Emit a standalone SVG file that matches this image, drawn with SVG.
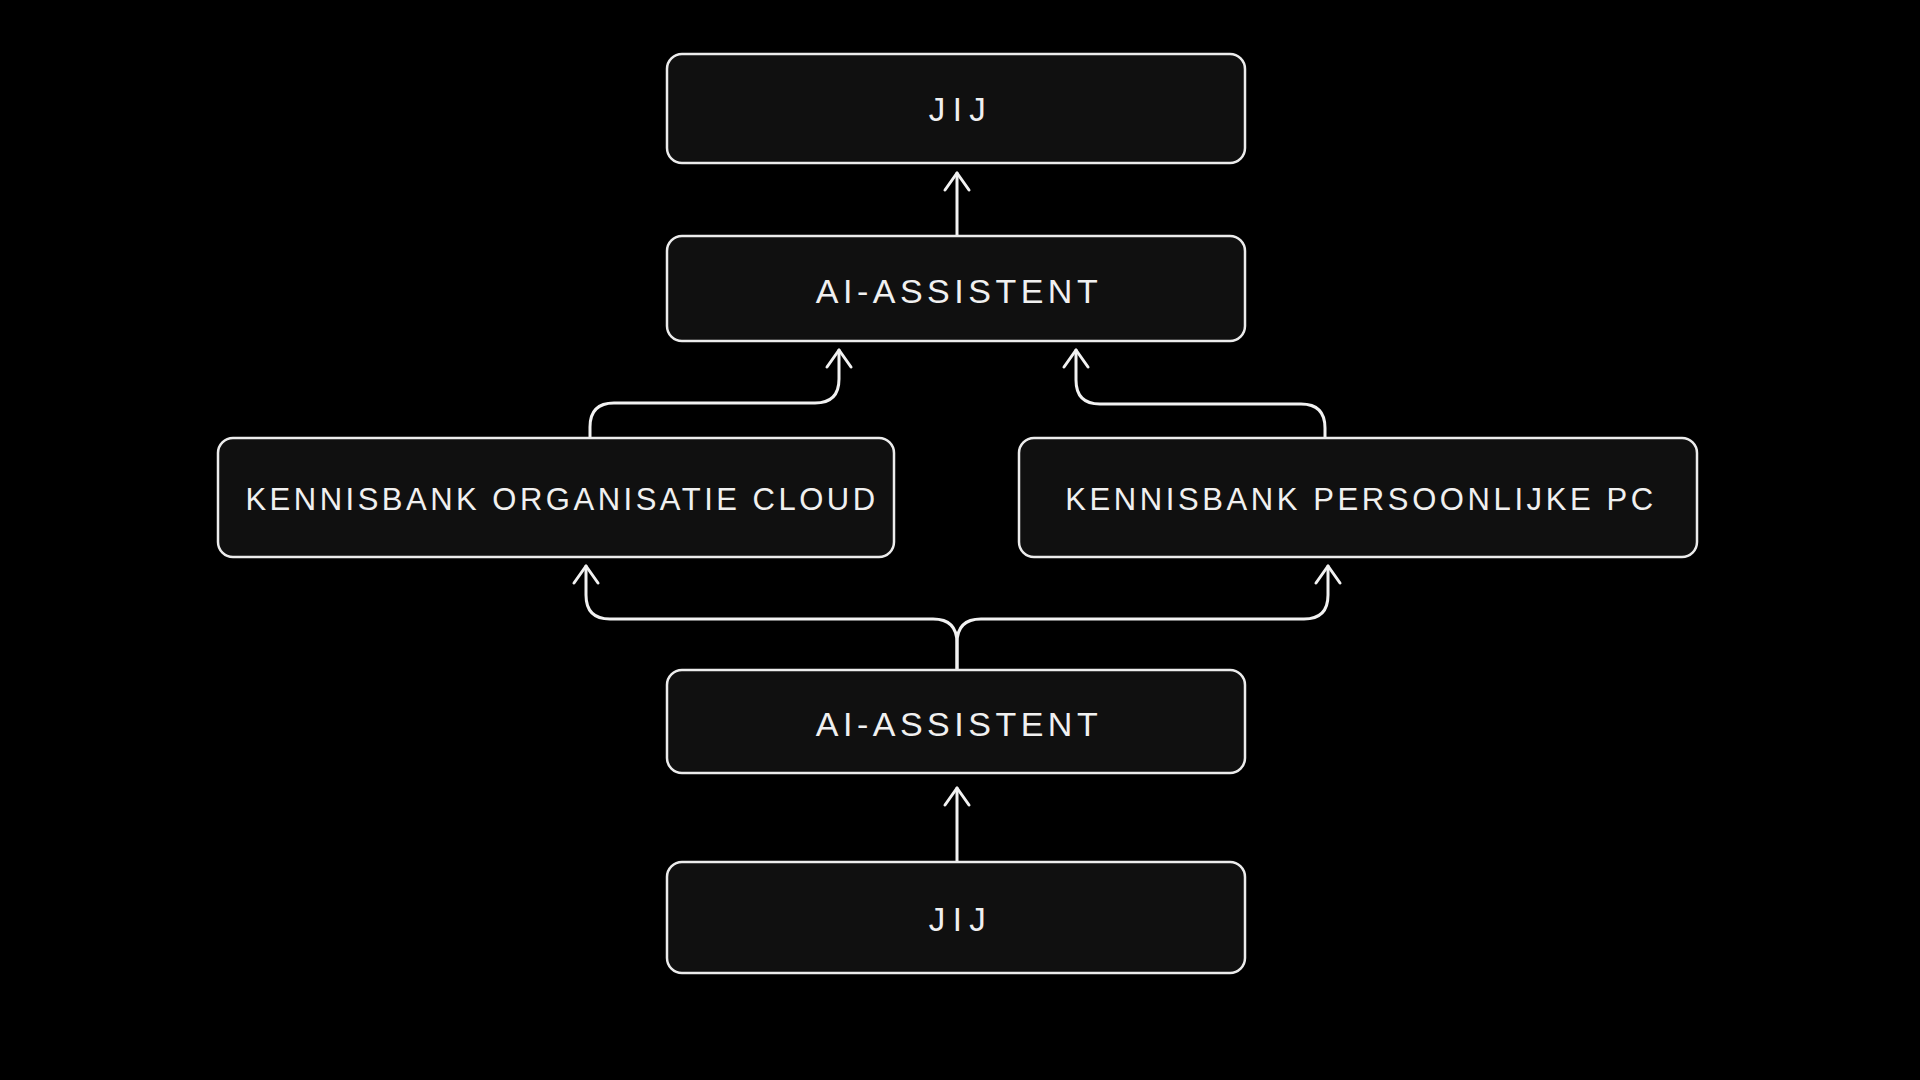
<svg xmlns="http://www.w3.org/2000/svg" width="1920" height="1080" viewBox="0 0 1920 1080">
<defs>
<style>
.box{fill:#101010;stroke:#ececec;stroke-width:2.5}
.lbl{font-family:"Liberation Sans",Arial,sans-serif;fill:#f0f0f0;text-anchor:middle}
.conn{fill:none;stroke:#f2f2f2;stroke-width:3;stroke-linecap:round;stroke-linejoin:round}
</style>
<marker id="arr" viewBox="-20 -20 40 40" markerWidth="40" markerHeight="40" refX="0" refY="0" orient="auto" markerUnits="userSpaceOnUse" overflow="visible">
<path d="M -17 -12 L 0 0 L -17 12" fill="none" stroke="#f2f2f2" stroke-width="3" stroke-linecap="round" stroke-linejoin="round"/>
</marker>
</defs>
<rect width="1920" height="1080" fill="#000"/>
<g id="connectors">
<path class="conn" d="M 957 862 L 957 788" marker-end="url(#arr)"/>
<path class="conn" d="M 957 670 L 957 643 Q 957 619 933 619 L 610 619 Q 586 619 586 595 L 586 566" marker-end="url(#arr)"/>
<path class="conn" d="M 957 670 L 957 643 Q 957 619 981 619 L 1304 619 Q 1328 619 1328 595 L 1328 566" marker-end="url(#arr)"/>
<path class="conn" d="M 590 438 L 590 427 Q 590 403 614 403 L 815 403 Q 839 403 839 379 L 839 350" marker-end="url(#arr)"/>
<path class="conn" d="M 1325 438 L 1325 428 Q 1325 404 1301 404 L 1100 404 Q 1076 404 1076 380 L 1076 350" marker-end="url(#arr)"/>
<path class="conn" d="M 957 236 L 957 173" marker-end="url(#arr)"/>
</g>
<g id="jij-top">
<rect class="box" x="667" y="54" width="578" height="109" rx="15"/>
<text class="lbl" x="961" y="121" font-size="33" letter-spacing="7.5">JIJ</text>
</g>
<g id="ai-assistent-top">
<rect class="box" x="667" y="236" width="578" height="105" rx="15"/>
<text class="lbl" x="959" y="303" font-size="34" letter-spacing="4.5">AI-ASSISTENT</text>
</g>
<g id="kennisbank-org">
<rect class="box" x="218" y="438" width="676" height="119" rx="15"/>
<text class="lbl" x="562" y="510" font-size="31" letter-spacing="3.5">KENNISBANK ORGANISATIE CLOUD</text>
</g>
<g id="kennisbank-pc">
<rect class="box" x="1019" y="438" width="678" height="119" rx="15"/>
<text class="lbl" x="1361" y="510" font-size="31" letter-spacing="3.6">KENNISBANK PERSOONLIJKE PC</text>
</g>
<g id="ai-assistent-bottom">
<rect class="box" x="667" y="670" width="578" height="103" rx="15"/>
<text class="lbl" x="959" y="736" font-size="34" letter-spacing="4.5">AI-ASSISTENT</text>
</g>
<g id="jij-bottom">
<rect class="box" x="667" y="862" width="578" height="111" rx="15"/>
<text class="lbl" x="961" y="931" font-size="33" letter-spacing="7.5">JIJ</text>
</g>
</svg>
